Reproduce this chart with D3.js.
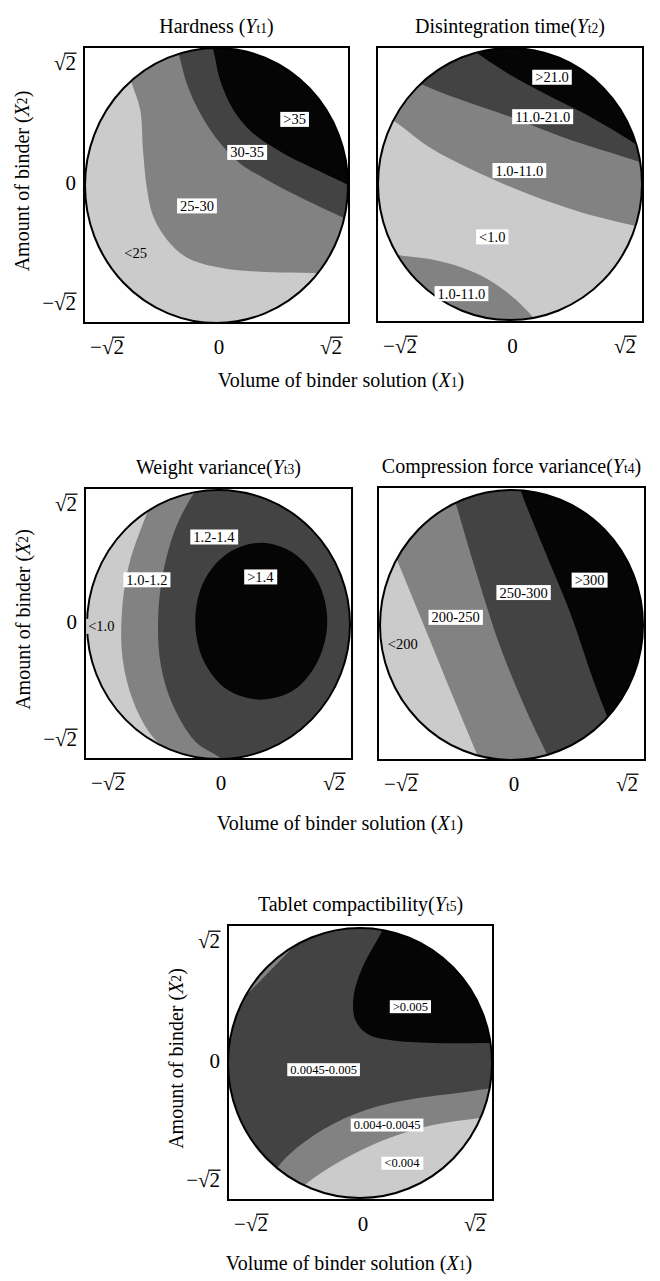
<!DOCTYPE html>
<html><head><meta charset="utf-8">
<script src="https://cdn.jsdelivr.net/npm/d3@7"></script>
<style>
body{margin:0;background:#fff}
svg{display:block}
text{font-family:"Liberation Serif","Times New Roman",serif;fill:#000}
</style>
</head><body>
<svg id="c" width="660" height="1281"></svg>
<script>
const S2 = Math.SQRT2;
const tickValues = [-S2, 0, S2];
const tickLabels = ["−√2", "0", "√2"];
const shadeColors = ["#cbcbcb", "#828282", "#434343", "#050505"];

const panelTitles = ["Hardness (", "Disintegration time(", "Weight variance(", "Compression force variance(", "Tablet compactibility("];
const panelSubs = ["t1", "t2", "t3", "t4", "t5"];
const xAxisTitle = "Volume of binder solution (";
const yAxisTitle = "Amount of binder (";

// ---- Hardness (Yt1): boundary lines in (X1, X2) units
const hardnessBase = 0;
const hardnessBands = [
  {level: 1, via: ["NE", "NW"], pts: [[-0.98,1.29],[-0.91,1.05],[-0.82,0.78],[-0.79,0.36],[-0.75,-0.02],[-0.68,-0.32],[-0.53,-0.56],[-0.32,-0.74],[0.01,-0.84],[0.54,-0.89],[1.04,-0.90],[1.54,-0.91]]},
  {level: 2, via: ["NE", "NW"], pts: [[-0.48,1.50],[-0.42,1.39],[-0.32,1.05],[-0.18,0.75],[0.01,0.47],[0.25,0.23],[0.54,0.06],[0.90,-0.12],[1.25,-0.28],[1.65,-0.46]]},
  {level: 3, via: ["NE", "NW"], pts: [[-0.09,1.52],[-0.04,1.41],[0.04,1.08],[0.18,0.78],[0.39,0.54],[0.72,0.33],[1.08,0.16],[1.30,0.06],[1.65,-0.10]]}
];
const hardnessLabels = [
  {t: "<25", u: -0.87, v: -0.69, box: false},
  {t: "25-30", u: -0.21, v: -0.21, box: true},
  {t: "30-35", u: 0.33, v: 0.34, box: true},
  {t: ">35", u: 0.84, v: 0.68, box: true}
];

// ---- Disintegration time (Yt2)
const disintBase = 0;
const disintBands = [
  {level: 1, via: ["NE", "NW"], pts: [[-1.61,0.82],[-1.27,0.67],[-0.86,0.38],[-0.32,0.11],[0.21,-0.11],[0.75,-0.29],[1.41,-0.45],[1.82,-0.53]]},
  {level: 2, via: ["NE", "NW"], pts: [[-1.40,1.29],[-1.04,1.08],[-0.51,0.87],[0.03,0.69],[0.56,0.49],[1.10,0.32],[1.42,0.22],[1.92,0.06]]},
  {level: 3, via: ["NE", "NW"], pts: [[-0.65,1.55],[-0.40,1.39],[-0.04,1.16],[0.39,0.93],[0.78,0.74],[1.14,0.54],[1.41,0.38],[1.82,0.20]]},
  {level: 1, via: ["SW"], pts: [[-1.72,-0.63],[-1.18,-0.74],[-0.86,-0.78],[-0.51,-0.87],[-0.22,-1.00],[0.07,-1.21],[0.32,-1.47],[0.48,-1.67]]}
];
const disintLabels = [
  {t: ">21.0", u: 0.45, v: 1.11, box: true},
  {t: "11.0-21.0", u: 0.35, v: 0.70, box: true},
  {t: "1.0-11.0", u: 0.10, v: 0.14, box: true},
  {t: "<1.0", u: -0.19, v: -0.55, box: true},
  {t: "1.0-11.0", u: -0.52, v: -1.14, box: true}
];

// ---- Weight variance (Yt3)
const weightBase = 0;
const weightBands = [
  {level: 1, via: ["SE", "NE"], pts: [[-0.47,1.62],[-0.66,1.39],[-0.84,0.99],[-0.97,0.60],[-1.04,0.12],[-1.03,-0.37],[-0.92,-0.80],[-0.74,-1.14],[-0.49,-1.39],[-0.25,-1.63]]},
  {level: 2, via: ["SE", "NE"], pts: [[-0.20,1.47],[-0.31,1.31],[-0.47,0.99],[-0.60,0.52],[-0.65,0.05],[-0.62,-0.43],[-0.49,-0.85],[-0.25,-1.23],[0.04,-1.42],[0.28,-1.69]]},
  {level: 3, closed: true, pts: [[1.17,0.04],[1.07,0.45],[0.81,0.75],[0.46,0.86],[0.10,0.75],[-0.16,0.45],[-0.25,0.04],[-0.16,-0.38],[0.10,-0.69],[0.46,-0.79],[0.81,-0.69],[1.07,-0.38]]}
];
const weightLabels = [
  {t: "1.2-1.4", u: -0.05, v: 0.92, box: true},
  {t: ">1.4", u: 0.45, v: 0.50, box: true},
  {t: "1.0-1.2", u: -0.77, v: 0.47, box: true},
  {t: "<1.0", u: -1.26, v: -0.02, box: false}
];

// ---- Compression force variance (Yt4)
const forceBase = 0;
const forceBands = [
  {level: 1, via: ["SE", "NE", "NW"], pts: [[-1.39,1.07],[-1.23,0.68],[-0.91,-0.08],[-0.63,-0.75],[-0.36,-1.38],[-0.21,-1.73]]},
  {level: 2, via: ["SE", "NE"], pts: [[-0.71,1.62],[-0.61,1.31],[-0.41,0.65],[-0.12,-0.23],[0.17,-0.92],[0.39,-1.38],[0.52,-1.73]]},
  {level: 3, via: ["SE", "NE"], pts: [[0.04,1.62],[0.11,1.38],[0.34,0.82],[0.63,0.13],[0.88,-0.58],[1.03,-0.96],[1.22,-1.41]]}
];
const forceLabels = [
  {t: ">300", u: 0.84, v: 0.47, box: true},
  {t: "250-300", u: 0.13, v: 0.34, box: true},
  {t: "200-250", u: -0.60, v: 0.08, box: true},
  {t: "<200", u: -1.17, v: -0.20, box: false}
];

// ---- Tablet compactibility (Yt5)
const compactBase = 2;
const compactBands = [
  {level: 3, via: ["NE"], pts: [[0.34,1.65],[0.25,1.41],[0.03,1.01],[-0.07,0.69],[-0.05,0.45],[0.07,0.31],[0.32,0.24],[0.78,0.21],[1.39,0.21],[1.82,0.21]]},
  {level: 1, via: ["SE", "SW"], pts: [[-1.07,-1.38],[-0.82,-1.02],[-0.40,-0.70],[0.07,-0.49],[0.61,-0.37],[1.15,-0.30],[1.42,-0.26],[1.82,-0.21]]},
  {level: 0, via: ["SE", "SW"], pts: [[-0.75,-1.43],[-0.57,-1.26],[-0.25,-1.05],[0.25,-0.81],[0.78,-0.65],[1.32,-0.57],[1.82,-0.49]]},
  {level: 1, via: ["NW"], pts: [[-1.39,0.54],[-0.54,1.39]]}
];
const compactLabels = [
  {t: ">0.005", u: 0.54, v: 0.59, box: true},
  {t: "0.0045-0.005", u: -0.39, v: -0.07, box: true},
  {t: "0.004-0.0045", u: 0.29, v: -0.65, box: true},
  {t: "<0.004", u: 0.45, v: -1.05, box: true}
];

const panelData = [
  {base: hardnessBase, bands: hardnessBands, labels: hardnessLabels},
  {base: disintBase, bands: disintBands, labels: disintLabels},
  {base: weightBase, bands: weightBands, labels: weightLabels},
  {base: forceBase, bands: forceBands, labels: forceLabels},
  {base: compactBase, bands: compactBands, labels: compactLabels}
];

// ---- layout (pixels)
const layout = [
  {box: [84, 47, 349, 323], circ: [85, 348, 48, 323], yTitleX: 22, yTicks: true, lfs: 14.5},
  {box: [377, 47, 643, 322], circ: [378, 642, 48, 320], yTitleX: null, yTicks: false, lfs: 14.5},
  {box: [85, 488, 352, 759], circ: [87, 350, 490, 759], yTitleX: 23, yTicks: true, lfs: 14.5},
  {box: [378, 487, 645, 760], circ: [380, 643, 490, 760], yTitleX: null, yTicks: false, lfs: 14.5},
  {box: [228, 925, 493, 1200], circ: [228, 492, 928, 1198], yTitleX: 176, yTicks: true, lfs: 12.5}
];
const xTitlePos = [[341, 387], [340, 830], [349, 1270]];

const svg = d3.select("#c");
const F = 2.2;
const corners = {NE: [F, F], NW: [-F, F], SE: [F, -F], SW: [-F, -F]};

function sqrtText(g, x, y, label, anchor, fs) {
  const t = g.append("text").attr("x", x).attr("y", y).attr("text-anchor", anchor)
    .style("font-size", fs + "px").text(label);
  const i = label.indexOf("√");
  if (i >= 0) {
    const n = t.node();
    const e1 = n.getExtentOfChar(i), e2 = n.getExtentOfChar(i + 1);
    const yy = y - 0.80 * fs;
    g.append("line").attr("x1", e1.x + e1.width - 1.2).attr("x2", e2.x + e2.width + 0.5)
      .attr("y1", yy).attr("y2", yy).attr("stroke", "#000").attr("stroke-width", 1.3);
  }
  return t;
}

function titleText(g, x, y, pre, letter, sub, post, fs, rotate) {
  const t = g.append("text").attr("text-anchor", "middle").style("font-size", fs + "px");
  if (rotate) t.attr("transform", `translate(${x},${y}) rotate(-90)`);
  else t.attr("x", x).attr("y", y);
  t.append("tspan").text(pre);
  t.append("tspan").style("font-style", "italic").text(letter);
  t.append("tspan").style("font-size", (fs * 0.68) + "px").text(sub);
  t.append("tspan").text(post);
  return t;
}

panelData.forEach((pd, pi) => {
  const L = layout[pi];
  const [bl, bt, br, bb] = L.box;
  const [cl, cr, ct, cb] = L.circ;
  const x = d3.scaleLinear().domain([-S2, S2]).range([cl, cr]);
  const y = d3.scaleLinear().domain([-S2, S2]).range([cb, ct]);
  const g = svg.append("g");
  const cx = x(0), cy = y(0), rx = x(S2) - x(0), ry = y(-S2) - y(0);

  const clipId = "clip" + pi;
  svg.append("defs").append("clipPath").attr("id", clipId)
    .append("ellipse").attr("cx", cx).attr("cy", cy).attr("rx", rx).attr("ry", ry);

  const cg = g.append("g").attr("clip-path", `url(#${clipId})`);
  cg.append("ellipse").attr("cx", cx).attr("cy", cy).attr("rx", rx).attr("ry", ry)
    .attr("fill", shadeColors[pd.base]);

  const openLine = d3.line().x(d => x(d[0])).y(d => y(d[1])).curve(d3.curveCatmullRom.alpha(0.5));
  const closedLine = d3.line().x(d => x(d[0])).y(d => y(d[1])).curve(d3.curveCatmullRomClosed.alpha(0.5));

  pd.bands.forEach(b => {
    let d;
    if (b.closed) d = closedLine(b.pts);
    else {
      d = openLine(b.pts);
      b.via.forEach(c => { d += "L" + x(corners[c][0]) + "," + y(corners[c][1]); });
      d += "Z";
    }
    cg.append("path").attr("d", d).attr("fill", shadeColors[b.level]);
  });

  g.append("ellipse").attr("cx", cx).attr("cy", cy).attr("rx", rx).attr("ry", ry)
    .attr("fill", "none").attr("stroke", "#000").attr("stroke-width", 2);

  // labels
  pd.labels.forEach(lb => {
    const lg = g.append("g");
    const t = lg.append("text").attr("x", x(lb.u)).attr("y", y(lb.v))
      .attr("text-anchor", "middle").attr("dominant-baseline", "central")
      .style("font-size", L.lfs + "px").text(lb.t);
    const bb2 = t.node().getBBox();
    lg.insert("rect", "text").attr("x", bb2.x - 3).attr("y", bb2.y + 0.5)
      .attr("width", bb2.width + 6).attr("height", bb2.height - 1)
      .attr("fill", lb.box ? "#fff" : shadeColors[0]);
  });

  // frame
  g.append("rect").attr("x", bl).attr("y", bt).attr("width", br - bl).attr("height", bb - bt)
    .attr("fill", "none").attr("stroke", "#000").attr("stroke-width", 2);

  // title
  titleText(g, (bl + br) / 2, bt - 14, panelTitles[pi], "Y", panelSubs[pi], ")", 20, false);

  // x tick labels
  const xt = d3.scaleLinear().domain([-S2, S2]).range([bl + 23, br - 18]);
  tickValues.forEach((tv, i) => sqrtText(g, xt(tv), bb + 31, tickLabels[i], "middle", 21));

  // y tick labels
  if (L.yTicks) {
    const yt = d3.scaleLinear().domain([-S2, S2]).range([bb - 20, bt + 16]);
    tickValues.forEach((tv, i) => sqrtText(g, bl - 8, yt(tv) + 7, tickLabels[i], "end", 21));
    titleText(g, L.yTitleX, (bt + bb) / 2 - 4, yAxisTitle, "X", "2", ")", 20, true)
      .attr("dominant-baseline", "central");
  }
});

xTitlePos.forEach(p => titleText(svg, p[0], p[1], xAxisTitle, "X", "1", ")", 20, false));
</script>
</body></html>
